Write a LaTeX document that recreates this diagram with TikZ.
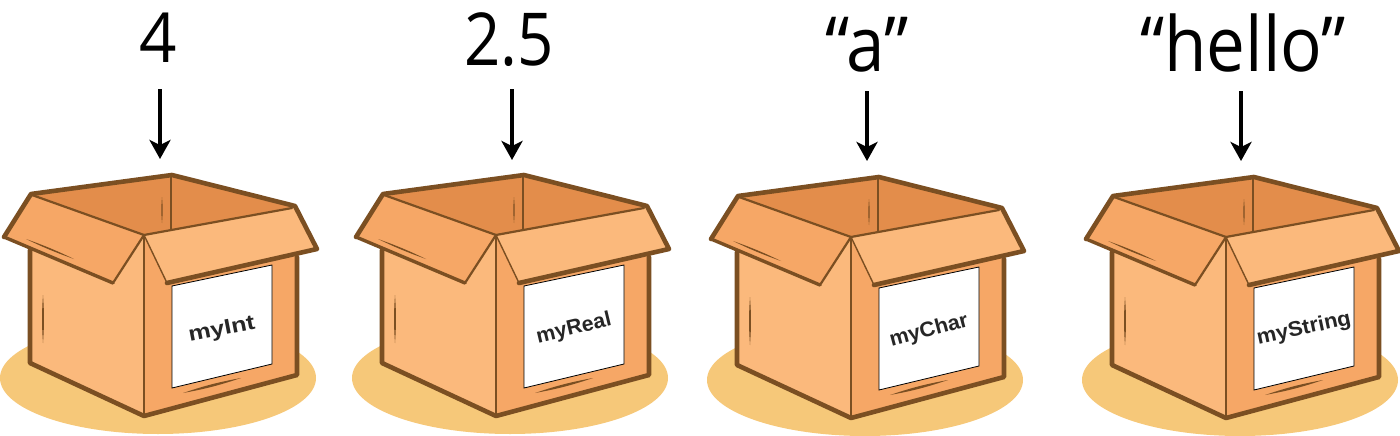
\documentclass[tikz,border=0pt]{standalone}
\usepackage{fontspec}
\usetikzlibrary{arrows.meta}
\setmainfont{Open Sans}
\newfontfamily\lblfont{Liberation Sans}[Scale=1]
\definecolor{shadow}{HTML}{F6C879}
\definecolor{inner}{HTML}{E38D4B}
\definecolor{mid}{HTML}{F6A766}
\definecolor{light}{HTML}{FBB97C}
\definecolor{edge}{HTML}{7B4F22}
\tikzset{
  x=1pt,y=-1pt,
  thick edge/.style={draw=edge,line width=4.6pt,line join=round,line cap=round},
  thin edge/.style={draw=edge,line width=2.2pt,line join=round,line cap=round},
  value/.style={font=\fontsize{69}{69}\selectfont,inner sep=0pt,anchor=base,xscale=.95},
  decimal/.style={font=\fontsize{73}{73}\selectfont,inner sep=0pt,anchor=base,xscale=.87},
  word/.style={font=\fontsize{76}{76}\selectfont,inner sep=0pt,anchor=base,xscale=.91},
  drop/.style={line width=4.4pt,-{Stealth[length=19pt,width=21pt,inset=5pt]}},
  tag/.style={font=\lblfont\bfseries\fontsize{21}{21}\selectfont,text=black!85,inner sep=0pt,anchor=center},
}
\newcommand{\crate}[6]{%
\begin{scope}[shift={(#1,#2)}]
  \fill[shadow] (158,378) ellipse [x radius=158,y radius=56];
  % interior
  \fill[inner] (32,195) -- (172,175) -- (294,207) -- (144,235) -- cycle;
  \draw[thin edge] (171,176) -- (171,231);
  \fill[edge] (162,197) to[bend left=5] (162,223) to[bend left=5] cycle;
  % sides
  \fill[light] (30,250) -- (144,235) -- (144,416) -- (30,363) -- cycle;
  \fill[mid] (144,235) -- (297,235) -- (297,375) -- (144,416) -- cycle;
  \draw[thick edge] (30,250) -- (30,363) -- (144,416) -- (297,375) -- (297,257);
  \draw[thin edge] (144,235) -- (144,416);
  \fill[edge] (43,295) to[bend left=4] (43,343) to[bend left=4] cycle;
  \fill[edge] (183,393) to[bend left=4] (241,378) to[bend left=4] cycle;
  % flaps
  \fill[mid] (32,195) -- (144,235) -- (113,283) -- (4,237) -- cycle;
  \fill[light] (144,235) -- (294,207) -- (317,249) -- (167,283) -- cycle;
  \draw[thin edge] (32,195) -- (144,235) -- (292,208);
  \draw[thin edge] (144,235) -- (113,283);
  \draw[draw=edge,line width=1.4pt] (144,235) -- (167,283);
  \draw[thick edge] (4,237) -- (31,194) -- (172,175) -- (295,206) -- (317,249) -- (167,283);
  \draw[draw=edge,line width=3.4pt,line join=round,line cap=round] (4,237) -- (113,283);
  \fill[edge] (26,239) to[bend left=3] (74,259) to[bend left=3] cycle;
  % label
  \path[fill=white,draw=black,line width=.8pt] (172,286) -- (272,265) -- (272,364) -- (172,388) -- cycle;
  \node[tag,rotate=#5,xscale=#6] (#4) at (222,#3) {#4};
\end{scope}}
\begin{document}
\begin{tikzpicture}
\useasboundingbox (0,0) rectangle (1400,436);
\crate{0}{0}{330}{myInt}{11}{1.2}
\crate{352}{0}{329}{myReal}{13.5}{1.02}
\crate{707}{2}{329}{myChar}{15}{1.03}
\crate{1082}{2}{327}{myString}{12}{1.05}
\node[value] (v1) at (158,63) {4};
\node[decimal] (v2) at (509,66) {2.5};
\node[word] (v3) at (867,71) {“a”};
\node[word] (v4) at (1243,71) {“hello”};
\coordinate (s1) at (160,89); \coordinate (e1) at (160,159);
\coordinate (s2) at (512,89); \coordinate (e2) at (512,160);
\coordinate (s3) at (867,91); \coordinate (e3) at (867,161);
\coordinate (s4) at (1241,91); \coordinate (e4) at (1241,161);
\draw[drop] (s1) -- (e1);
\draw[drop] (s2) -- (e2);
\draw[drop] (s3) -- (e3);
\draw[drop] (s4) -- (e4);
\end{tikzpicture}
\end{document}
